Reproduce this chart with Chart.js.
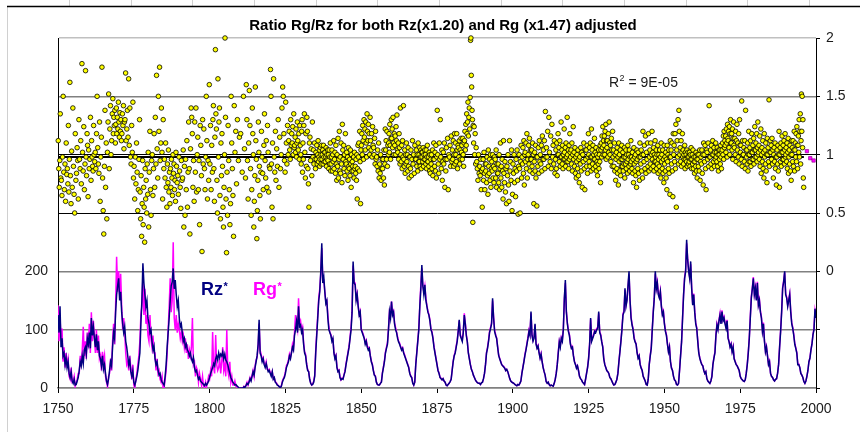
<!DOCTYPE html>
<html>
<head>
<meta charset="utf-8">
<script src="https://cdn.jsdelivr.net/npm/chart.js@4.4.1/dist/chart.umd.min.js"></script>
<style>
  html, body { margin: 0; padding: 0; background: #fff; }
  #wrap { width: 860px; height: 432px; position: relative; }
</style>
</head>
<body>
<div id="wrap"><canvas id="c"></canvas></div>
<script>
// ─── data ─────────────────────────────────────────────
const START_YEAR = 1750;
const PER_YEAR = 3;          // Rz*/Rg* values per year
const X_MIN = 1750, X_MAX = 2000, X_STEP = 25;

// Rz* (navy), 3 values per year from 1750
const RZ = [
  125,95,140, 70,85,55, 60,40,52, 35,45,25, 18,28,12, 8,15,5, 6,12,18, 30,45,38, 55,42,65, 70,58,85,
  75,95,68, 120,90,105, 85,70,92, 65,80,55, 50,38,55, 32,40,25, 12,6,15, 30,45,38, 70,95,85, 130,160,175,
  188,150,165, 130,110,95, 105,80,70, 55,40,48, 28,20,30, 10,5,12, 20,30,45, 60,110,150, 214,180,160, 140,150,120,
  110,95,100, 80,65,72, 50,40,45, 30,22,25, 15,10,8, 5,20,40, 70,95,120, 150,175,182, 205,170,185, 160,140,150,
  120,105,110, 95,80,85, 70,75,65, 62,55,60, 50,45,52, 35,28,30, 22,15,18, 12,10,8, 6,4,8, 5,8,12,
  18,25,30, 35,42,38, 50,55,48, 60,52,58, 55,62,50, 58,48,45, 40,32,25, 18,14,10, 8,5,6, 4,2,0,
  0,0,0, 0,2,1, 4,8,6, 10,16,12, 20,28,22, 35,45,55, 75,117,60, 55,45,50, 40,35,42, 34,28,30,
  25,20,28, 15,18,10, 8,5,4, 2,0,3, 10,15,18, 25,35,40, 45,55,50, 60,70,65, 90,100,114, 95,140,105,
  108,95,100, 75,60,55, 40,30,28, 15,8,5, 6,10,20, 60,90,120, 150,165,200, 248,180,190, 165,145,150, 120,100,95,
  90,80,85, 60,50,55, 35,28,30, 18,14,16, 15,22,28, 40,50,60, 70,85,100, 130,217,180, 177,150,160, 140,125,130,
  100,95,90, 85,75,80, 70,65,68, 55,45,40, 30,22,20, 10,6,5, 5,8,10, 25,35,45, 60,68,75, 100,131,120,
  148,125,130, 110,100,95, 85,79,75, 70,65,68, 60,55,50, 45,40,35, 25,20,18, 8,5,10, 40,60,80, 100,140,170,
  211,175,160, 177,150,140, 130,125,115, 100,95,85, 70,60,50, 40,30,25, 18,16,14, 16,12,10, 5,4,6, 8,11,15,
  30,45,55, 60,70,80, 97,117,90, 85,80,95, 125,110,90, 79,60,50, 40,32,28, 22,18,14, 11,9,8, 8,6,9,
  10,16,25, 40,60,68, 80,95,102, 110,154,120, 97,90,85, 70,56,50, 45,40,38, 36,34,30, 32,28,22, 16,12,10,
  9,8,6, 5,4,6, 5,8,12, 25,35,45, 56,65,75, 85,97,90, 131,90,80, 85,110,75, 68,72,60, 51,58,45,
  35,28,22, 11,8,10, 6,4,5, 4,3,8, 15,25,40, 60,79,70, 85,80,100, 154,185,130, 110,97,90, 75,68,70,
  55,45,40, 34,38,30, 20,16,14, 10,8,6, 15,25,35, 50,74,120, 80,85,90, 97,95,100, 102,131,95, 90,79,70,
  50,40,35, 30,28,25, 18,16,12, 8,5,6, 10,15,25, 45,62,80, 100,125,130, 171,140,150, 176,200,150, 120,108,100,
  85,79,75, 60,51,55, 40,34,30, 20,16,12, 6,5,15, 40,55,68, 100,130,154, 200,170,180, 160,154,165, 140,125,130,
  110,97,90, 75,62,70, 45,34,30, 20,14,12, 6,5,8, 30,55,79, 120,160,188, 200,254,220, 200,188,217, 170,142,160,
  130,110,102, 80,60,51, 45,40,38, 30,25,28, 16,12,10, 8,12,20, 40,51,60, 90,108,100, 115,125,110, 131,115,120,
  110,102,115, 85,79,70, 75,62,70, 50,45,40, 38,34,30, 20,16,14, 12,11,14, 25,40,60, 85,120,154, 170,188,160,
  171,150,180, 142,150,130, 120,97,110, 80,62,70, 55,40,45, 25,20,18, 14,12,15, 16,25,40, 70,97,130, 171,182,200,
  160,154,140, 150,160,130, 110,102,90, 75,68,60, 40,40,35, 25,22,18, 11,8,12, 20,30,45, 51,65,75, 91,100,136,
  120
];

// Rg* (magenta), same time grid
const RG = [
  142,80,120, 85,102,45, 70,35,60, 40,50,20, 15,35,10, 12,20,3, 8,15,25, 25,55,40, 65,105,55, 80,50,95,
  70,110,60, 130,80,115, 90,60,100, 60,90,50, 56,30,62, 45,56,20, 10,2,20, 25,50,30, 80,110,75, 140,225,165,
  200,160,196, 140,100,120, 95,60,40, 45,30,55, 35,15,40, 5,0,15, 25,40,55, 80,125,140, 190,125,170, 110,125,90,
  80,125,85, 70,90,60, 60,30,50, 25,30,15, 10,20,0, 0,15,30, 60,100,140, 188,130,150, 250,120,100, 125,95,110,
  100,85,95, 80,90,70, 85,60,75, 50,65,55, 70,120,40, 45,20,35, 30,10,25, 15,5,20, 3,0,10, 2,10,20,
  15,30,20, 96,35,25, 91,40,30, 35,50,25, 45,70,30, 40,20,100, 30,20,45, 10,20,5, 5,12,3, 2,0,0,
  0,0,0, 0,3,1, 5,10,5, 12,18,14, 22,30,20, 38,48,52, 70,110,65, 58,48,52, 42,38,45, 32,30,32,
  27,22,28, 16,18,11, 9,6,4, 2,1,4, 12,16,20, 28,38,42, 48,58,52, 62,75,68, 95,125,110, 100,154,110,
  115,100,105, 78,62,58, 42,32,28, 16,9,5, 7,12,22, 65,95,125, 155,170,195, 240,185,185, 165,148,150, 125,105,95,
  92,85,85, 62,52,56, 37,29,31, 19,14,17, 16,23,30, 42,52,62, 72,88,105, 135,210,182, 180,154,162, 142,127,132,
  102,97,92, 86,78,82, 72,70,68, 56,47,41, 31,23,21, 11,6,5, 5,8,11, 27,36,47, 62,70,78, 102,131,125,
  148,128,132, 112,104,96, 88,80,77, 71,66,69, 61,57,51, 46,41,36, 26,21,18, 9,5,10, 42,62,82, 102,142,177,
  205,176,165, 175,154,142, 132,126,117, 101,97,86, 72,61,51, 41,30,26, 18,17,14, 16,12,10, 5,4,6, 8,11,15,
  31,46,56, 62,72,82, 98,115,92, 87,82,96, 128,112,92, 80,61,51, 41,33,28, 22,18,14, 11,9,8, 8,6,9,
  10,16,25, 41,61,70, 82,97,104, 112,150,122, 99,92,86, 71,57,51, 46,41,38, 37,34,30, 32,28,22, 16,12,10,
  9,8,6, 5,4,6, 5,8,12, 26,36,46, 58,66,77, 87,99,92, 128,92,82, 87,108,77, 69,73,61, 52,59,46,
  36,28,22, 11,8,10, 6,4,5, 4,3,8, 15,26,41, 62,80,72, 87,82,102, 152,180,132, 112,99,92, 77,69,71,
  56,46,41, 35,38,30, 20,16,14, 10,8,6, 15,26,36, 52,76,118, 82,87,92, 99,97,102, 104,128,97, 92,80,71,
  51,41,35, 30,28,25, 18,16,12, 8,5,6, 10,15,26, 46,64,82, 102,128,132, 168,142,152, 172,195,152, 122,110,102,
  87,80,76, 61,52,56, 41,35,30, 20,16,12, 6,5,15, 41,56,70, 102,132,156, 196,172,182, 162,156,167, 142,127,132,
  112,99,92, 76,63,71, 46,35,30, 20,14,12, 6,5,8, 31,56,80, 122,162,190, 202,248,222, 202,190,212, 172,144,162,
  132,112,104, 82,61,52, 46,41,38, 30,25,28, 16,12,10, 8,12,20, 41,52,62, 92,110,102, 117,128,112, 133,117,122,
  112,104,117, 87,80,71, 76,63,71, 51,46,41, 38,34,30, 20,16,14, 12,11,14, 26,41,62, 87,122,157, 172,190,162,
  173,152,182, 144,152,132, 122,99,112, 82,63,71, 56,41,46, 26,20,18, 14,12,15, 16,26,41, 72,99,132, 173,184,198,
  162,156,142, 152,162,132, 112,104,92, 77,69,61, 41,41,35, 25,22,18, 11,8,12, 20,30,45, 52,66,76, 92,102,132,
  120
];

// Rg/Rz ratio (x100), one list per year
const RATIO_1750 = [
  [112,88,72,95,135,80], [78,65,98,150,85], [70,92,60,110,83], [88,75,125,68,96,162], [82,58,103,72,140],
  [90,66,50,118,78], [84,106,95,62,130], [96,88,112,75,178], [102,86,124,70,92], [172,98,82,118,108,64],
  [104,88,96,132,78], [112,98,90,86,125,100], [94,102,88,118,150], [106,92,84,128,60], [98,115,175,80,52],
  [32,90,138,72,110], [45,102,128,152,88], [122,142,100,112,135], [148,118,132,125,138,110], [126,140,118,132,122,145],
  [128,115,136,120,130,112], [118,135,125,142,105,128], [130,170,112,122,138], [115,165,108,140,98], [92,125,102,145,80],
  [90,62,98,75,110], [85,52,70,96,130], [68,45,82,30,58,95], [40,72,55,25,88,62], [78,50,92,66,102,38],
  [85,120,70,48,95], [100,65,88,118,72], [132,92,168,105,80], [150,120,175,95,110], [140,102,62,130,88],
  [96,80,110,72,55], [92,76,104,68,85,58], [88,72,96,80,65,100], [84,92,70,78,60,102], [90,76,82,66,98],
  [86,72,54,95,78], [80,104,38,90,48], [96,70,112,55,85], [128,88,32,105,140], [132,118,72,95,60],
  [128,85,140,68,100], [115,70,95,40,125], [108,82,17,130,92], [122,88,70,98,150], [112,62,95,78,160]
];
const RATIO_1800 = [
  [92,125,70,108,85], [130,142,88,60,115,190], [135,122,78,50,165,98], [128,140,65,45,110,82], [118,90,55,38,72,100],
  [200,132,62,16,85,48], [125,95,70,40,58], [150,110,88,65,30], [142,102,120,75], [130,95,115],
  [118,85], [150,105,80], [160,130,95,62,110], [155,125,88,48,70], [140,118,100,38,60,82],
  [158,112,96,28,52,78], [128,102,90,65,45,85], [120,98,84,70,108], [135,95,80,112,72], [125,102,68,90,88],
  [173,150,92,55,110,45], [165,98,85,120,78], [105,90,130,72], [115,88,100,140], [158,150,118,95,85],
  [145,110,92,125,100], [112,120,104,96,130,108], [118,110,124,100,135,106], [108,115,102,122,98,110,128], [112,104,118,96,125,108],
  [100,92,120,130,85,110,96], [125,135,102,80,118,90], [132,120,88,75,55,110], [115,95,105,82,128], [98,104,92,110,96,88],
  [102,96,108,92,100,112,94], [98,104,90,96,106,100,92,108], [96,100,104,92,108,98,94,102], [102,94,98,106,90,100,96,104], [95,100,88,104,92,98,110,86],
  [92,98,104,86,100,94,112], [88,96,102,84,108,92,78], [100,90,114,80,96,120,86], [98,84,110,92,76,126,104], [96,108,88,100,82,118,94],
  [92,102,86,98,78,106,90], [88,96,82,104,92,72,100,86], [94,90,86,98,80,102,88], [90,84,96,78,100,62,88,108], [98,110,86,120,94,58,104]
];
const RATIO_1850 = [
  [108,118,100,125,112,96,130], [115,122,104,128,110,98,135], [120,112,126,106,118,100,132], [112,104,118,98,124,108], [106,100,114,92,120,96],
  [98,90,104,86,110,80], [92,84,100,78,88,96], [88,96,80,104,74,92,122], [104,112,96,120,90,108,100], [110,118,102,126,108,96,114,130],
  [114,122,106,132,110,100,118], [108,116,100,124,112,134,104], [102,110,96,118,106,92,140], [100,94,108,88,112,98,142], [96,90,104,84,100,92,110],
  [94,100,86,106,90,80,98], [98,88,104,82,96,112], [92,100,84,108,96], [96,104,90,100,86,110,94], [100,94,106,90,98,104,88,102],
  [98,102,94,106,90,100,96,104], [96,100,92,104,88,98,108,94], [94,98,90,102,86,100,84,96], [92,100,88,104,82,96,110], [96,90,102,86,108,80,98],
  [138,100,92,84,110,96], [130,98,88,104,78,94], [102,92,110,72,96,86], [106,96,114,70,100], [98,108,90,116,94],
  [104,96,112,90,100,118,92], [110,100,94,118,104,88,108], [106,98,112,92,104,96,114], [102,108,96,114,100,90,110], [112,120,104,126,108,135,118],
  [128,145,116,132,140,122,149], [198,200,168,158,138,130,42,125], [110,124,100,118,92,106], [94,88,78,100,84], [90,82,96,70,86,55],
  [88,96,78,102,84,70,92], [86,92,76,98,82,66,104], [90,84,96,78,100,72,88], [94,86,100,80,90,76,98], [88,96,80,104,72,92,84],
  [84,92,76,100,70,88,110], [80,90,72,96,86,62,112], [84,76,94,68,88,58], [90,82,100,74,60,112], [86,94,78,104,52,66]
];
const RATIO_1900 = [
  [92,84,100,76,88,64], [96,86,104,78,49,90], [100,88,50,94,108,80], [98,92,106,84,112,74,100], [102,94,110,88,118,80,96],
  [100,108,92,114,86,104,96], [96,104,90,110,84,100,58], [94,102,86,108,80,98,56], [98,90,106,84,112,94], [100,92,108,86,116,96],
  [104,96,112,88,137,98], [106,98,120,90,132], [102,94,116,88,126], [98,108,92,112,84], [96,104,88,110,82,100,118],
  [100,106,94,112,90,98,128], [98,104,92,108,88,100,96,122], [102,96,106,90,110,98,94,132], [100,94,104,88,108,96,118,102], [98,104,92,110,86,100,124],
  [96,102,90,106,84,98,80], [94,100,88,104,82,96,76], [98,92,106,86,102,72], [100,94,110,88,70,104], [96,104,90,108,84,98,118],
  [100,94,106,90,110,98,86,122], [98,104,92,108,88,100,96,114], [96,102,90,106,86,100,94,82], [98,92,104,88,100,94,108,76], [104,110,98,116,106,124,100,112],
  [108,116,100,120,104,126,96,112], [106,112,98,118,102,128,110], [100,108,94,114,104,90,120], [98,104,90,110,86,100,78], [96,102,88,106,84,98,74,110],
  [94,100,86,104,82,96,90,108], [96,90,102,86,98,92,106,80], [98,92,104,88,100,94,84,108], [96,100,90,104,86,98,92,112], [94,98,88,102,84,96,76,106],
  [92,98,86,100,82,94,72,104], [96,88,102,84,98,78,110], [98,92,104,86,100,80,120], [100,94,108,88,116,84], [102,96,110,90,118,86],
  [98,104,92,110,88,100,120], [96,102,90,106,86,100,94,112], [98,94,104,88,100,92,108,84], [96,100,90,104,86,98,80,110], [94,100,88,104,84,96,76,108]
];
const RATIO_1950 = [
  [92,98,86,102,80,96,70,108], [94,100,88,104,84,98,66,112], [98,104,92,110,86,64,118], [100,108,94,118,88,126,55], [104,112,98,130,92,138,120],
  [100,106,94,112,90,102,118], [98,104,92,100,96,108,88,102], [96,100,94,104,90,98,102,92], [98,94,102,90,100,96,106,88], [96,100,92,104,88,98,94,84],
  [94,98,90,102,86,96,80,100], [96,90,100,86,104,78,94], [98,92,104,84,100,74,110], [100,94,108,88,70,104], [102,96,110,90,142,98],
  [98,104,92,108,88,100,112], [100,94,106,90,102,96,110], [98,102,94,106,90,100,86,104], [100,96,104,92,108,98,88,102], [104,110,100,116,96,120,106,112],
  [108,116,102,122,110,98,126,114], [112,120,106,124,100,118,130,110], [110,118,104,122,96,114,128,108], [106,114,100,120,94,112,126], [104,110,98,118,92,130,108],
  [102,108,96,146,90,112,100], [100,106,94,112,88,138,104], [98,104,92,110,86,100,120,94], [100,106,94,112,90,102,118,96], [102,108,96,114,92,104,124,98],
  [104,110,98,118,94,106,128,100], [102,108,96,116,90,104,122,84], [100,106,94,112,88,102,80,118], [98,104,92,110,86,100,76,114], [100,106,94,147,90,102,112],
  [102,108,96,114,92,104,80], [100,106,94,110,88,98,74], [98,104,92,108,86,100,120,72], [100,106,94,110,90,102,116,96], [102,108,96,112,92,104,118,98],
  [100,106,94,110,88,102,114,84], [98,104,92,108,86,100,78,112], [100,106,94,112,90,104,120,86], [104,110,98,118,94,124,108,88], [108,116,102,130,98,120,135,92],
  [112,152,120,150,106,130,80,72]
];
const RATIO_BLOCKS = [[1750, RATIO_1750], [1800, RATIO_1800], [1850, RATIO_1850], [1900, RATIO_1900], [1950, RATIO_1950]];

// linear trend of the ratio (R² = 9E-05)
const TREND_X = [1750, 1996];
const TREND_Y = [0.98, 0.98];
// last few ratio points, shown as magenta squares
const LATE_X = [1997, 1998.1, 1999.2];
const LATE_Y = [1.03, 0.97, 0.95];

const TITLE = 'Ratio Rg/Rz for both Rz(x1.20) and Rg (x1.47) adjusted';
const R2_TEXT = ' = 9E-05';

// ─── build series ─────────────────────────────────────
const toSeries = arr => arr.map((v, i) => ({ x: START_YEAR + i / PER_YEAR, y: v }));
const ratioPts = [];
RATIO_BLOCKS.forEach(([y0, block]) =>
  block.forEach((vals, k) =>
    vals.forEach((v, j) => ratioPts.push({ x: y0 + k + (j + 0.5) / vals.length, y: v / 100 }))
  )
);
const trendPts = TREND_X.map((x, i) => ({ x, y: TREND_Y[i] }));
const latePts = LATE_X.map((x, i) => ({ x, y: LATE_Y[i] }));

// ─── styling helpers ──────────────────────────────────
const FONT = 'Arial, "Liberation Sans", sans-serif';
const isBlackGrid = v => v === 300 || v === 400;
const gridColor = v => v === 600 ? '#c0c0c0' : isBlackGrid(v) ? '#000000' : '#808080';
const gridWidth = v => isBlackGrid(v) ? 1 : 1.6;

const decor = {
  id: 'decor',
  beforeDraw(chart) {
    const c = chart.ctx;
    c.save();
    c.strokeStyle = '#d0d0d0';
    c.lineWidth = 1;
    c.beginPath();
    c.moveTo(7.5, 6); c.lineTo(7.5, 432);
    for (let x = 69; x < 860; x += 61.67) {
      const px = Math.round(x) + 0.5;
      c.moveTo(px, 0); c.lineTo(px, 6);
    }
    c.stroke();
    c.strokeStyle = '#000';
    c.lineWidth = 1.5;
    c.beginPath(); c.moveTo(7, 6.5); c.lineTo(860, 6.5); c.stroke();
    c.restore();
  },
  afterDraw(chart) {
    const c = chart.ctx;
    c.save();
    c.textBaseline = 'alphabetic';
    // title
    c.fillStyle = '#000';
    c.font = 'bold 15px ' + FONT;
    c.textAlign = 'center';
    c.fillText(TITLE, 443, 30);
    // R² label
    c.textAlign = 'left';
    c.fillStyle = '#1a1a1a';
    c.font = '14px ' + FONT;
    let x = 609;
    c.fillText('R', x, 86.5);
    x += c.measureText('R').width;
    c.font = '9px ' + FONT;
    c.fillText('2', x + 0.5, 81);
    x += c.measureText('2').width + 0.5;
    c.font = '14px ' + FONT;
    c.fillText(R2_TEXT, x, 86.5);
    // series labels
    const tag = (txt, px, col) => {
      c.fillStyle = col;
      c.font = 'bold 18px ' + FONT;
      c.fillText(txt, px, 295);
      const w = c.measureText(txt).width;
      c.font = 'bold 11px ' + FONT;
      c.fillText('*', px + w + 0.5, 290);
    };
    tag('Rz', 201, '#000080');
    tag('Rg', 253, '#ff00ff');
    c.restore();
  }
};

// ─── chart ────────────────────────────────────────────
new Chart(document.getElementById('c').getContext('2d'), {
  type: 'line',
  data: {
    datasets: [
      {
        label: 'Rg/Rz', data: ratioPts, yAxisID: 'y2', showLine: false, clip: false,
        pointRadius: 2.3, pointBackgroundColor: '#ffff00', pointBorderColor: '#000', pointBorderWidth: 0.8,
      },
      {
        label: 'late', data: latePts, yAxisID: 'y2', showLine: false,
        pointStyle: 'rect', pointRadius: 2.4, pointBackgroundColor: '#ff00ff', pointBorderColor: '#800080', pointBorderWidth: 0.6,
      },
      {
        label: 'trend', data: trendPts, yAxisID: 'y2',
        borderColor: '#000', borderWidth: 2, pointRadius: 0, tension: 0,
      },
      {
        label: 'Rz*', data: toSeries(RZ), yAxisID: 'y',
        borderColor: '#000080', borderWidth: 1.5, pointRadius: 0, tension: 0,
      },
      {
        label: 'Rg*', data: toSeries(RG), yAxisID: 'y',
        borderColor: '#ff00ff', borderWidth: 1.5, pointRadius: 0, tension: 0,
      },
    ],
  },
  options: {
    responsive: true,
    maintainAspectRatio: false,
    animation: false,
    devicePixelRatio: 1,
    layout: { padding: { top: 38, left: 0, right: 0, bottom: 0 } },
    plugins: { legend: { display: false }, tooltip: { enabled: false }, title: { display: false } },
    scales: {
      x: {
        type: 'linear', min: X_MIN, max: X_MAX,
        afterFit: s => { s.height = 44; },
        ticks: {
          stepSize: X_STEP, autoSkip: false, maxRotation: 0, padding: 8,
          color: '#1a1a1a', font: { family: FONT, size: 14 },
          callback: v => String(v),
        },
        grid: { drawOnChartArea: false, drawTicks: true, tickLength: 5, color: '#000' },
        border: { display: true, color: '#808080', width: 1.6 },
      },
      y: {
        position: 'left', min: 0, max: 600,
        afterFit: s => { s.width = 58; },
        ticks: {
          stepSize: 100, padding: 10,
          color: '#1a1a1a', font: { family: FONT, size: 14 },
          callback: v => v <= 200 ? String(v) : '',
        },
        grid: {
          drawTicks: false,
          color: c => gridColor(c.tick.value),
          lineWidth: c => gridWidth(c.tick.value),
        },
        border: { display: true, color: '#000', width: 1 },
      },
      y2: {
        position: 'right', min: -1, max: 2,
        afterFit: s => { s.width = 44; },
        ticks: {
          stepSize: 0.5, padding: 6,
          color: '#1a1a1a', font: { family: FONT, size: 14 },
          callback: v => v >= 0 ? String(v) : '',
        },
        grid: { drawOnChartArea: false, drawTicks: true, tickLength: 4, color: '#000' },
        border: { display: true, color: '#000', width: 1 },
      },
    },
  },
  plugins: [decor],
});
</script>
</body>
</html>
